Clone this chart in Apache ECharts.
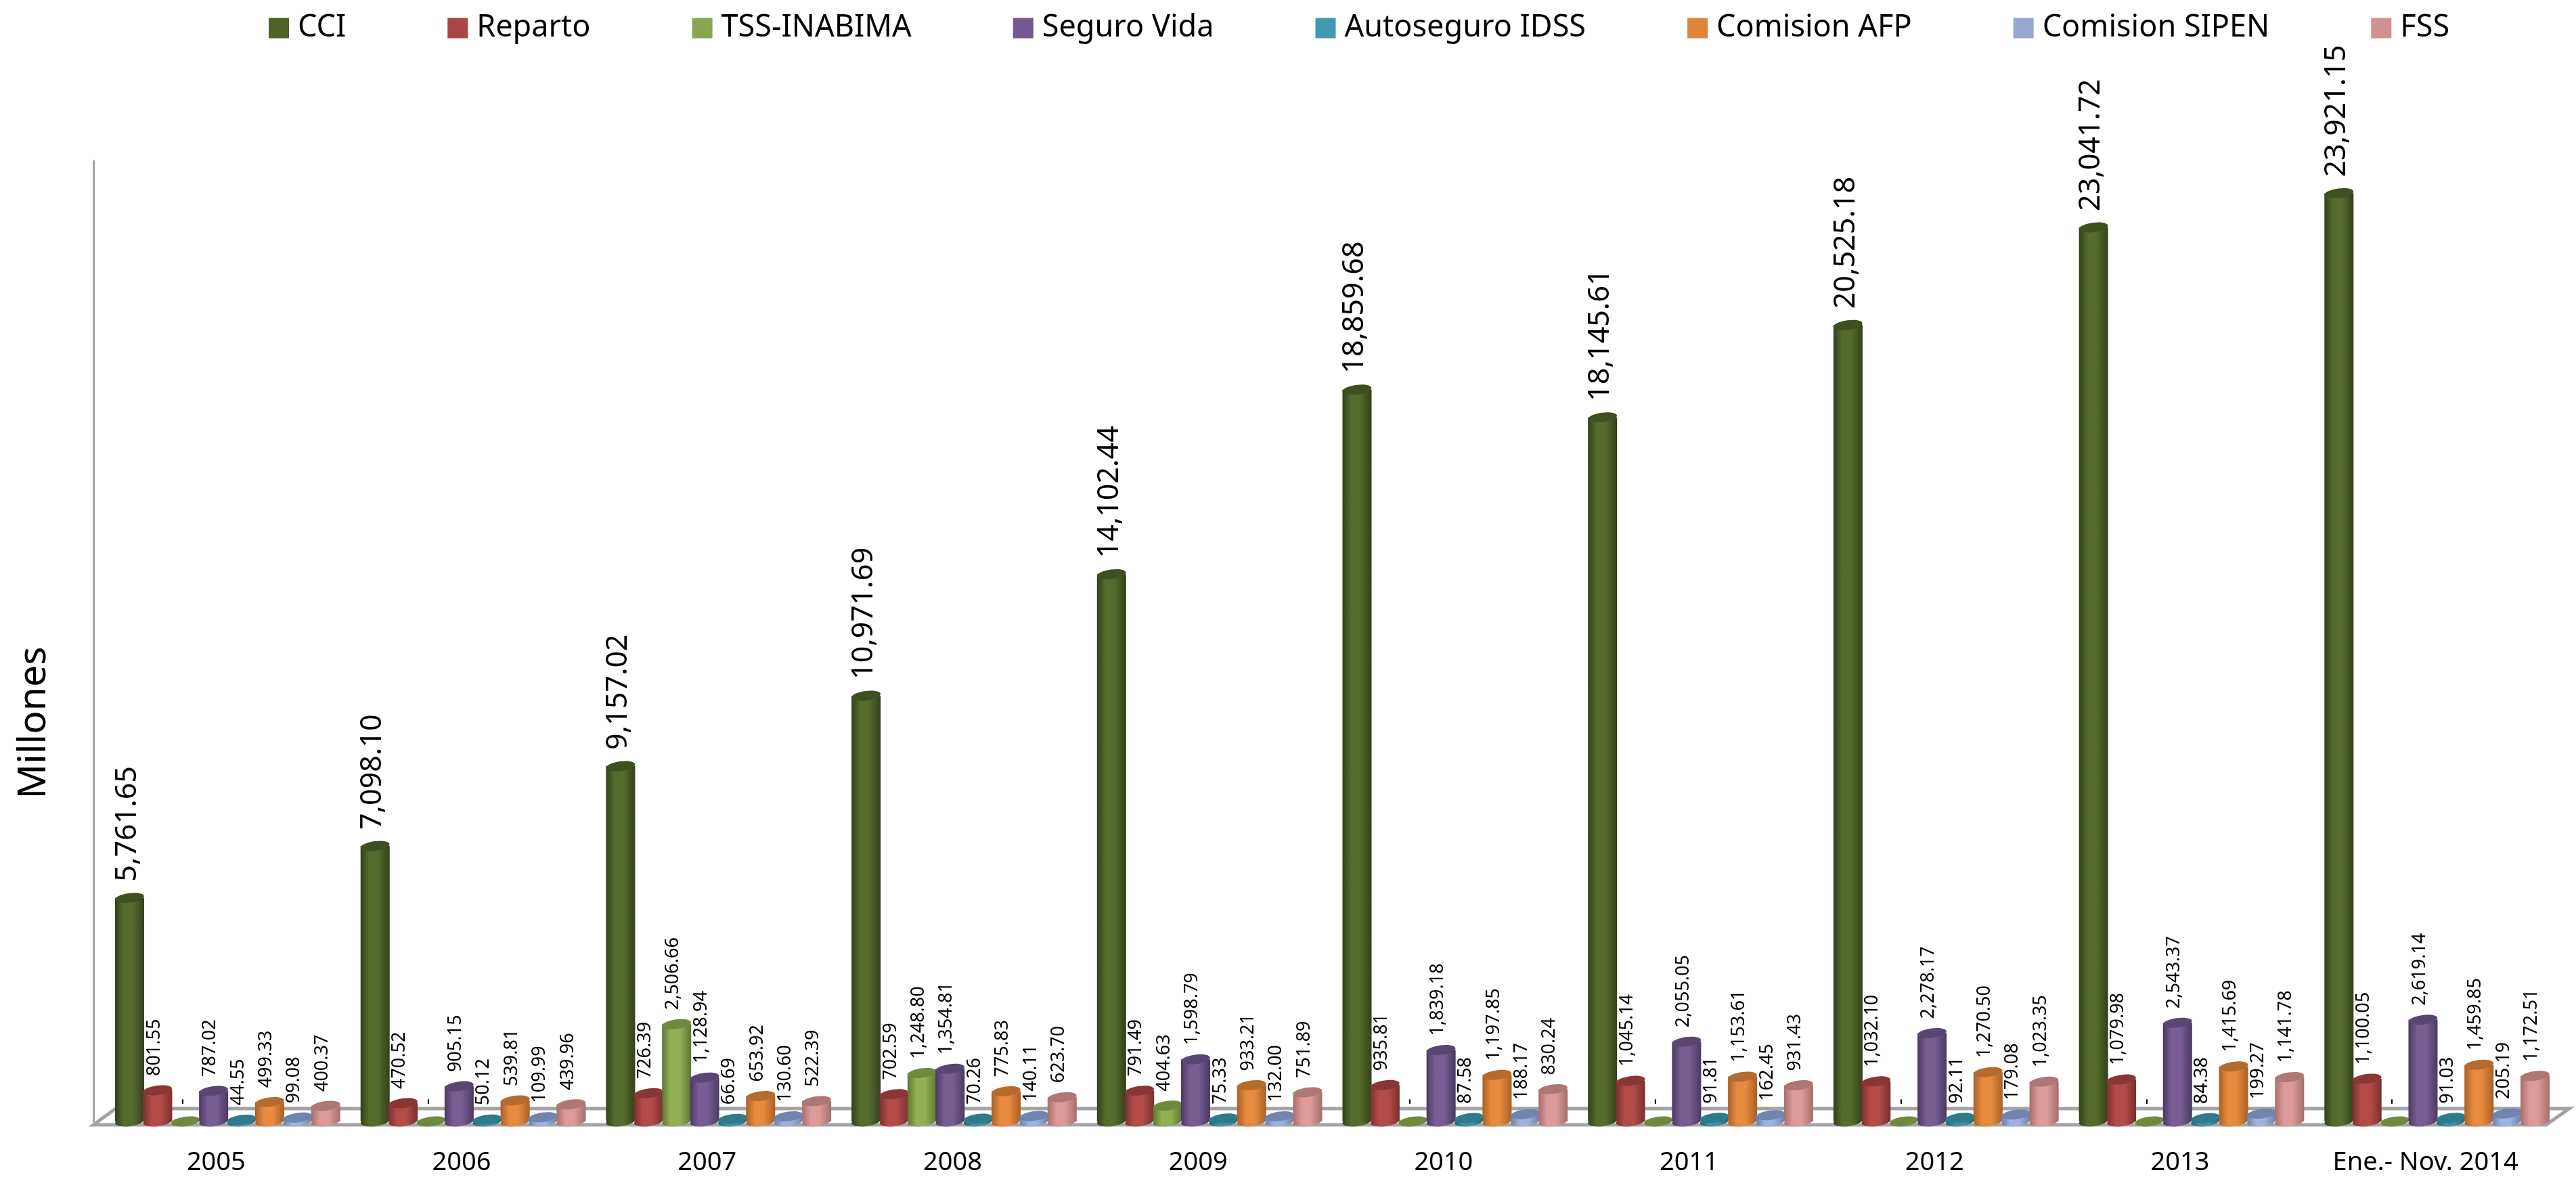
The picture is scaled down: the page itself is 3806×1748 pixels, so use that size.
<!DOCTYPE html>
<html><head><meta charset="utf-8">
<script src="https://cdn.jsdelivr.net/npm/echarts@6/dist/echarts.min.js"></script>
<style>html,body{margin:0;padding:0;background:#fff}#c{width:3806px;height:1748px}</style>
</head><body><div id="c"></div>
<script>
const categories=['2005','2006','2007','2008','2009','2010','2011','2012','2013','Ene.- Nov. 2014'];
const CCI=[5761.65,7098.10,9157.02,10971.69,14102.44,18859.68,18145.61,20525.18,23041.72,23921.15];
const Reparto=[801.55,470.52,726.39,702.59,791.49,935.81,1045.14,1032.10,1079.98,1100.05];
const TSS=[0,0,2506.66,1248.80,404.63,0,0,0,0,0];
const SeguroVida=[787.02,905.15,1128.94,1354.81,1598.79,1839.18,2055.05,2278.17,2543.37,2619.14];
const Autoseguro=[44.55,50.12,66.69,70.26,75.33,87.58,91.81,92.11,84.38,91.03];
const ComisionAFP=[499.33,539.81,653.92,775.83,933.21,1197.85,1153.61,1270.50,1415.69,1459.85];
const ComisionSIPEN=[99.08,109.99,130.60,140.11,132.00,188.17,162.45,179.08,199.27,205.19];
const FSS=[400.37,439.96,522.39,623.70,751.89,830.24,931.43,1023.35,1141.78,1172.51];
const seriesNames=['CCI','Reparto','TSS-INABIMA','Seguro Vida','Autoseguro IDSS','Comision AFP','Comision SIPEN','FSS'];
const seriesValues=[CCI,Reparto,TSS,SeguroVida,Autoseguro,ComisionAFP,ComisionSIPEN,FSS];
const colors=['#4f6228','#aa4644','#8aa64e','#73598f','#4298b0','#de853d','#95a9d1','#d19191'];
const lights=['#566c2c','#b34c49','#94b054','#775d94','#3f93a9','#e68b40','#9db2de','#dc9a99'];
const edges=['#33401a','#7a302e','#5f7534','#4b3a61','#25616f','#a85f24','#6a80a8','#a56e6d'];
const tops=['#3f4f20','#8a3634','#6f8a3e','#5a4673','#2f7a8c','#b56b2e','#7085ad','#ae7675'];
const FONT='"Noto Sans"';
const fmt=v=>v===0?'-':v.toLocaleString('en-US',{minimumFractionDigits:2,maximumFractionDigits:2});
function cylinder(si){
  return function(params,api){
    const v=api.value(1), c=api.coord([api.value(0),v]), base=api.coord([api.value(0),0]);
    const band=api.size([1,0])[0];
    const step=band*0.1141, w=band*0.1186;
    const cx=c[0]+(si-3.5)*step, x0=cx-w/2, ry=7, rot=0.13;
    const big=si===0;
    const grad={type:'linear',x:0,y:0,x2:1,y2:0,colorStops:[{offset:0,color:edges[si]},{offset:0.3,color:lights[si]},{offset:0.6,color:lights[si]},{offset:1,color:edges[si]}]};
    const kids=[];
    kids.push({type:'ellipse',shape:{cx:cx,cy:base[1],rx:w/2,ry:ry},originX:cx,originY:base[1],rotation:rot,style:{fill:v===0?tops[si]:grad}});
    if(v>0){
      kids.push({type:'rect',shape:{x:x0,y:c[1],width:w,height:base[1]-c[1]},style:{fill:grad}});
      kids.push({type:'ellipse',shape:{cx:cx,cy:c[1],rx:w/2,ry:ry},originX:cx,originY:c[1],rotation:rot,style:{fill:tops[si]}});
    }
    kids.push({type:'text',x:big?cx-3:cx-5,y:c[1]-(big?24:(v===0?25:21)),rotation:Math.PI/2,style:{text:fmt(v),fill:'#000',font:(big?'43px ':'27px ')+FONT,align:'left',verticalAlign:'middle'}});
    return {type:'group',children:kids};
  };
}
const chart=echarts.init(document.getElementById('c'));
chart.setOption({
  animation:false,backgroundColor:'#fff',
  legend:{left:392,top:14,icon:'rect',itemWidth:30,itemHeight:30,itemGap:150,selectedMode:false,
    data:seriesNames,textStyle:{fontFamily:FONT,fontSize:45,color:'#000',padding:[0,0,0,8]}},
  grid:{left:155,right:24,top:238,bottom:91,containLabel:false},
  xAxis:{type:'category',data:categories,boundaryGap:true,axisTick:{show:false},axisLine:{show:false},
    axisLabel:{fontFamily:FONT,fontSize:38,color:'#000',margin:42,interval:0,padding:[0,34,0,0]}},
  yAxis:{type:'value',min:0,max:24750,interval:24750,offset:17,splitLine:{show:false},axisTick:{show:false},axisLabel:{show:false},
    axisLine:{show:true,lineStyle:{color:'#a6a6a6',width:3}}},
  graphic:[
    {type:'polygon',z:0,shape:{points:[[138,1662],[171,1638],[3796,1638],[3762,1662]]},style:{fill:'#fff',stroke:'#a3a3a3',lineWidth:5}},
    {type:'text',z:5,x:51,y:1068,rotation:Math.PI/2,style:{text:'Millones',font:'57px '+FONT,fill:'#000',align:'center',verticalAlign:'middle'}}
  ],
  series:seriesNames.map((n,i)=>({name:n,type:'custom',coordinateSystem:'cartesian2d',itemStyle:{color:colors[i]},
    encode:{x:0,y:1},clip:false,data:seriesValues[i].map((v,k)=>[k,v]),renderItem:cylinder(i)}))
});
</script></body></html>
